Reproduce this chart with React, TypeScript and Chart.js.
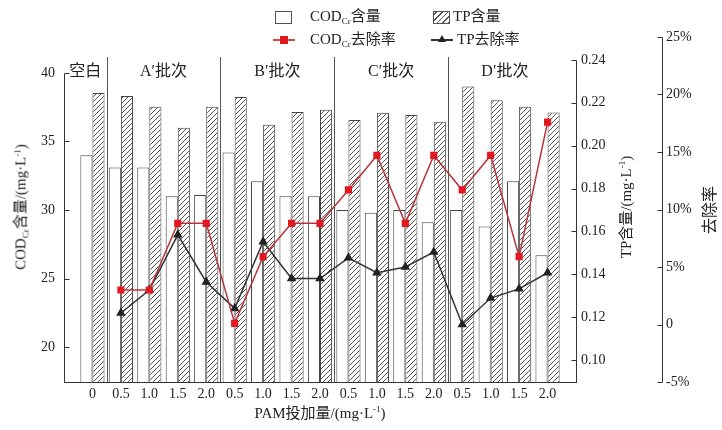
import React, { useEffect, useRef } from 'react';
import { Chart, registerables } from 'chart.js';

Chart.register(...registerables);

const FONT = "'Liberation Serif','Noto Sans CJK SC',serif";

// PAM dose categories (mg/L)
const doses = ['0', '0.5', '1.0', '1.5', '2.0', '0.5', '1.0', '1.5', '2.0', '0.5', '1.0', '1.5', '2.0', '0.5', '1.0', '1.5', '2.0'];
const groupNames = ['空白', 'A′批次', 'B′批次', 'C′批次', 'D′批次'];
const groupStarts = [0, 1, 5, 9, 13];
const groupEnds = [0, 4, 8, 12, 16];

// COD_Cr content (mg/L)
const codContent = [34.0, 33.1, 33.1, 31.0, 31.1, 34.2, 32.1, 31.0, 31.0, 30.0, 29.8, 30.0, 29.1, 30.0, 28.8, 32.1, 26.7];
// TP content (mg/L)
const tpContent = [0.2246, 0.2232, 0.2181, 0.2083, 0.2181, 0.2227, 0.2097, 0.2157, 0.2167, 0.212, 0.2153, 0.2143, 0.2111, 0.2276, 0.2212, 0.2181, 0.2155];
// removal rates (%)
const codRemoval = [null, 3.0, 3.0, 8.8, 8.8, 0.1, 5.9, 8.8, 8.8, 11.7, 14.7, 8.8, 14.7, 11.7, 14.7, 5.9, 17.6];
const tpRemoval = [null, 1.0, 3.0, 7.8, 3.7, 1.4, 7.2, 4.0, 4.0, 5.8, 4.5, 5.0, 6.3, 0.0, 2.3, 3.1, 4.5];

const codTicks = [20, 25, 30, 35, 40];
const tpTicks = [0.1, 0.12, 0.14, 0.16, 0.18, 0.2, 0.22, 0.24];
const rateTicks = [-5, 0, 5, 10, 15, 20, 25];

const pad = (arr: (number | null)[]) => [null, ...arr, null];
const labels = ['', ...doses, ''];

function makeHatch(): CanvasPattern | string {
  const c = document.createElement('canvas');
  c.width = 5;
  c.height = 5;
  const g = c.getContext('2d');
  if (!g) return '#ccc';
  g.fillStyle = '#fff';
  g.fillRect(0, 0, 5, 5);
  g.strokeStyle = '#555';
  g.lineWidth = 1;
  g.beginPath();
  g.moveTo(0, 5); g.lineTo(5, 0);
  g.moveTo(-1, 1); g.lineTo(1, -1);
  g.moveTo(4, 6); g.lineTo(6, 4);
  g.stroke();
  return g.createPattern(c, 'repeat') || '#ccc';
}

const decor = {
  id: 'decor',
  beforeDatasetsDraw(chart: any) {
    const { ctx, chartArea, scales } = chart;
    const x = scales.x;
    ctx.save();
    ctx.strokeStyle = '#555';
    ctx.lineWidth = 1;
    for (let g = 0; g < groupStarts.length - 1; g++) {
      const px = Math.round(x.getPixelForValue(groupEnds[g] + 1.5)) + 0.5;
      ctx.beginPath();
      ctx.moveTo(px, chartArea.top + 20);
      ctx.lineTo(px, chartArea.bottom);
      ctx.stroke();
    }
    ctx.fillStyle = '#222';
    ctx.font = '16px ' + FONT;
    ctx.textAlign = 'center';
    ctx.textBaseline = 'middle';
    groupNames.forEach((name, g) => {
      let cx;
      if (g === 0) {
        cx = (chartArea.left + x.getPixelForValue(groupEnds[0] + 1.5)) / 2;
      } else {
        cx = (x.getPixelForValue(groupStarts[g] + 1) + x.getPixelForValue(groupEnds[g] + 1)) / 2;
      }
      ctx.fillText(name, cx, chartArea.top + 35);
    });
    ctx.restore();
  },
  afterDraw(chart: any) {
    const { ctx, chartArea, scales } = chart;
    ctx.save();
    ctx.strokeStyle = '#333';
    ctx.lineWidth = 1;
    const drawAxis = (scale: any, xPos: number, topVal: number, dir: number, ticks: number[]) => {
      const xp = Math.round(xPos) + 0.5;
      ctx.beginPath();
      ctx.moveTo(xp, Math.round(scale.getPixelForValue(topVal)) + 0.5);
      ctx.lineTo(xp, chartArea.bottom + 0.5);
      ticks.forEach((v) => {
        const py = Math.round(scale.getPixelForValue(v)) + 0.5;
        ctx.moveTo(xp, py);
        ctx.lineTo(xp + dir * 5, py);
      });
      ctx.stroke();
    };
    drawAxis(scales.y, chartArea.left, codTicks[codTicks.length - 1], 1, codTicks);
    drawAxis(scales.y1, chartArea.right, tpTicks[tpTicks.length - 1], -1, tpTicks);
    drawAxis(scales.y2, scales.y2.left, rateTicks[rateTicks.length - 1], -1, rateTicks);
    ctx.beginPath();
    ctx.moveTo(chartArea.left, Math.round(chartArea.bottom) + 0.5);
    ctx.lineTo(chartArea.right + 1, Math.round(chartArea.bottom) + 0.5);
    ctx.stroke();
    ctx.restore();
  },
};

export default function App() {
  const ref = useRef<HTMLCanvasElement | null>(null);

  useEffect(() => {
    if (!ref.current) return;
    Chart.defaults.font.family = FONT;
    Chart.defaults.color = '#222';
    const hatch = makeHatch();
    const tickFont = { size: 14, family: FONT };
    const noGrid = { display: false, drawTicks: false, tickLength: 0 };
    const chart = new Chart(ref.current, {
      type: 'bar',
      data: {
        labels,
        datasets: [
          {
            type: 'line',
            label: 'CODCr去除率',
            data: pad(codRemoval),
            yAxisID: 'y2',
            borderColor: '#b8363a',
            borderWidth: 1.5,
            pointStyle: 'rect',
            pointRadius: 4,
            pointBackgroundColor: '#e3171f',
            pointBorderColor: '#e3171f',
            order: 0,
          },
          {
            type: 'line',
            label: 'TP去除率',
            data: pad(tpRemoval),
            yAxisID: 'y2',
            borderColor: '#333',
            borderWidth: 1.5,
            pointStyle: 'triangle',
            pointRadius: 4,
            pointBackgroundColor: '#222',
            pointBorderColor: '#222',
            order: 0,
          },
          {
            type: 'bar',
            label: 'CODCr含量',
            data: pad(codContent),
            yAxisID: 'y',
            backgroundColor: '#fff',
            borderColor: '#444',
            borderWidth: 1,
            categoryPercentage: 0.85,
            barPercentage: 1,
            order: 1,
          },
          {
            type: 'bar',
            label: 'TP含量',
            data: pad(tpContent),
            yAxisID: 'y1',
            backgroundColor: hatch as any,
            borderColor: '#444',
            borderWidth: 1,
            categoryPercentage: 0.85,
            barPercentage: 1,
            order: 1,
          },
        ] as any,
      },
      options: {
        animation: false,
        responsive: false,
        layout: { padding: { top: 37, left: 0, right: 0, bottom: 0 } },
        plugins: { legend: { display: false }, tooltip: { enabled: false } },
        scales: {
          x: {
            type: 'category',
            offset: false,
            grid: noGrid,
            border: { display: false },
            ticks: { autoSkip: false, maxRotation: 0, minRotation: 0, padding: 4, font: tickFont, color: '#222' },
            afterFit: (s: any) => { s.height = 48; },
          },
          y: {
            position: 'left',
            min: 17.45,
            max: 42.62,
            grid: noGrid,
            border: { display: false },
            afterBuildTicks: (s: any) => { s.ticks = codTicks.map((v) => ({ value: v })); },
            ticks: { padding: 9, font: tickFont, color: '#222' },
            afterFit: (s: any) => { s.width = 64; },
          },
          y1: {
            position: 'right',
            weight: 0,
            min: 0.0897,
            max: 0.2507,
            grid: noGrid,
            border: { display: false },
            afterBuildTicks: (s: any) => { s.ticks = tpTicks.map((v) => ({ value: v })); },
            ticks: { padding: 5, font: tickFont, color: '#222', callback: (v: any) => Number(v).toFixed(2) },
            afterFit: (s: any) => { s.width = 86; },
          },
          y2: {
            position: 'right',
            weight: 1,
            min: -5,
            max: 25,
            grid: noGrid,
            border: { display: false },
            afterBuildTicks: (s: any) => { s.ticks = rateTicks.map((v) => ({ value: v })); },
            ticks: { padding: 4, font: tickFont, color: '#222', callback: (v: any) => (Number(v) === 0 ? '0' : v + '%') },
            afterFit: (s: any) => { s.width = 60; },
          },
        } as any,
      },
      plugins: [decor],
    });
    return () => chart.destroy();
  }, []);

  const txt: React.CSSProperties = { position: 'absolute', fontFamily: FONT, color: '#222', whiteSpace: 'nowrap', lineHeight: 1 };
  const sub: React.CSSProperties = { fontSize: '0.6em', verticalAlign: '-0.3em' };
  const sup: React.CSSProperties = { fontSize: '0.6em', verticalAlign: '0.6em' };

  return (
    <div style={{ position: 'fixed', left: 0, top: 0, width: 722, height: 430, background: '#fff', overflow: 'hidden' }}>
      <canvas ref={ref} width={722} height={430} style={{ position: 'absolute', left: 0, top: 0 }} />
      {/* legend */}
      <div style={{ position: 'absolute', left: 275, top: 11, width: 15, height: 11, border: '1px solid #555', background: '#fff' }} />
      <div style={{ ...txt, left: 310, top: 9, fontSize: 15 }}>COD<span style={sub}>Cr</span>含量</div>
      <div style={{ position: 'absolute', left: 433, top: 11, width: 15, height: 11, border: '1px solid #555', background: 'repeating-linear-gradient(-45deg, #555 0 1px, #fff 1px 4px)' }} />
      <div style={{ ...txt, left: 453, top: 9, fontSize: 15 }}>TP含量</div>
      <div style={{ position: 'absolute', left: 273, top: 39, width: 22, height: 2, background: '#d04a4a' }} />
      <div style={{ position: 'absolute', left: 280, top: 36, width: 8, height: 8, background: '#e3171f' }} />
      <div style={{ ...txt, left: 310, top: 32, fontSize: 15 }}>COD<span style={sub}>Cr</span>去除率</div>
      <div style={{ position: 'absolute', left: 431, top: 39, width: 22, height: 1.5, background: '#333' }} />
      <div style={{ position: 'absolute', left: 438, top: 35, width: 0, height: 0, borderLeft: '4px solid transparent', borderRight: '4px solid transparent', borderBottom: '7px solid #222' }} />
      <div style={{ ...txt, left: 457, top: 32, fontSize: 15 }}>TP去除率</div>
      {/* axis titles */}
      <div style={{ ...txt, left: 22, top: 207, fontSize: 15, transform: 'translate(-50%,-50%) rotate(-90deg)' }}>
        COD<span style={sub}>Cr</span>含量/(mg·L<span style={sup}>-1</span>)
      </div>
      <div style={{ ...txt, left: 626, top: 207, fontSize: 15, transform: 'translate(-50%,-50%) rotate(-90deg)' }}>
        TP含量/(mg·L<span style={sup}>-1</span>)
      </div>
      <div style={{ ...txt, left: 710, top: 210, fontSize: 16, transform: 'translate(-50%,-50%) rotate(-90deg)' }}>去除率</div>
      <div style={{ ...txt, left: 320, top: 413, fontSize: 15, transform: 'translate(-50%,-50%)' }}>
        PAM投加量/(mg·L<span style={sup}>-1</span>)
      </div>
    </div>
  );
}
